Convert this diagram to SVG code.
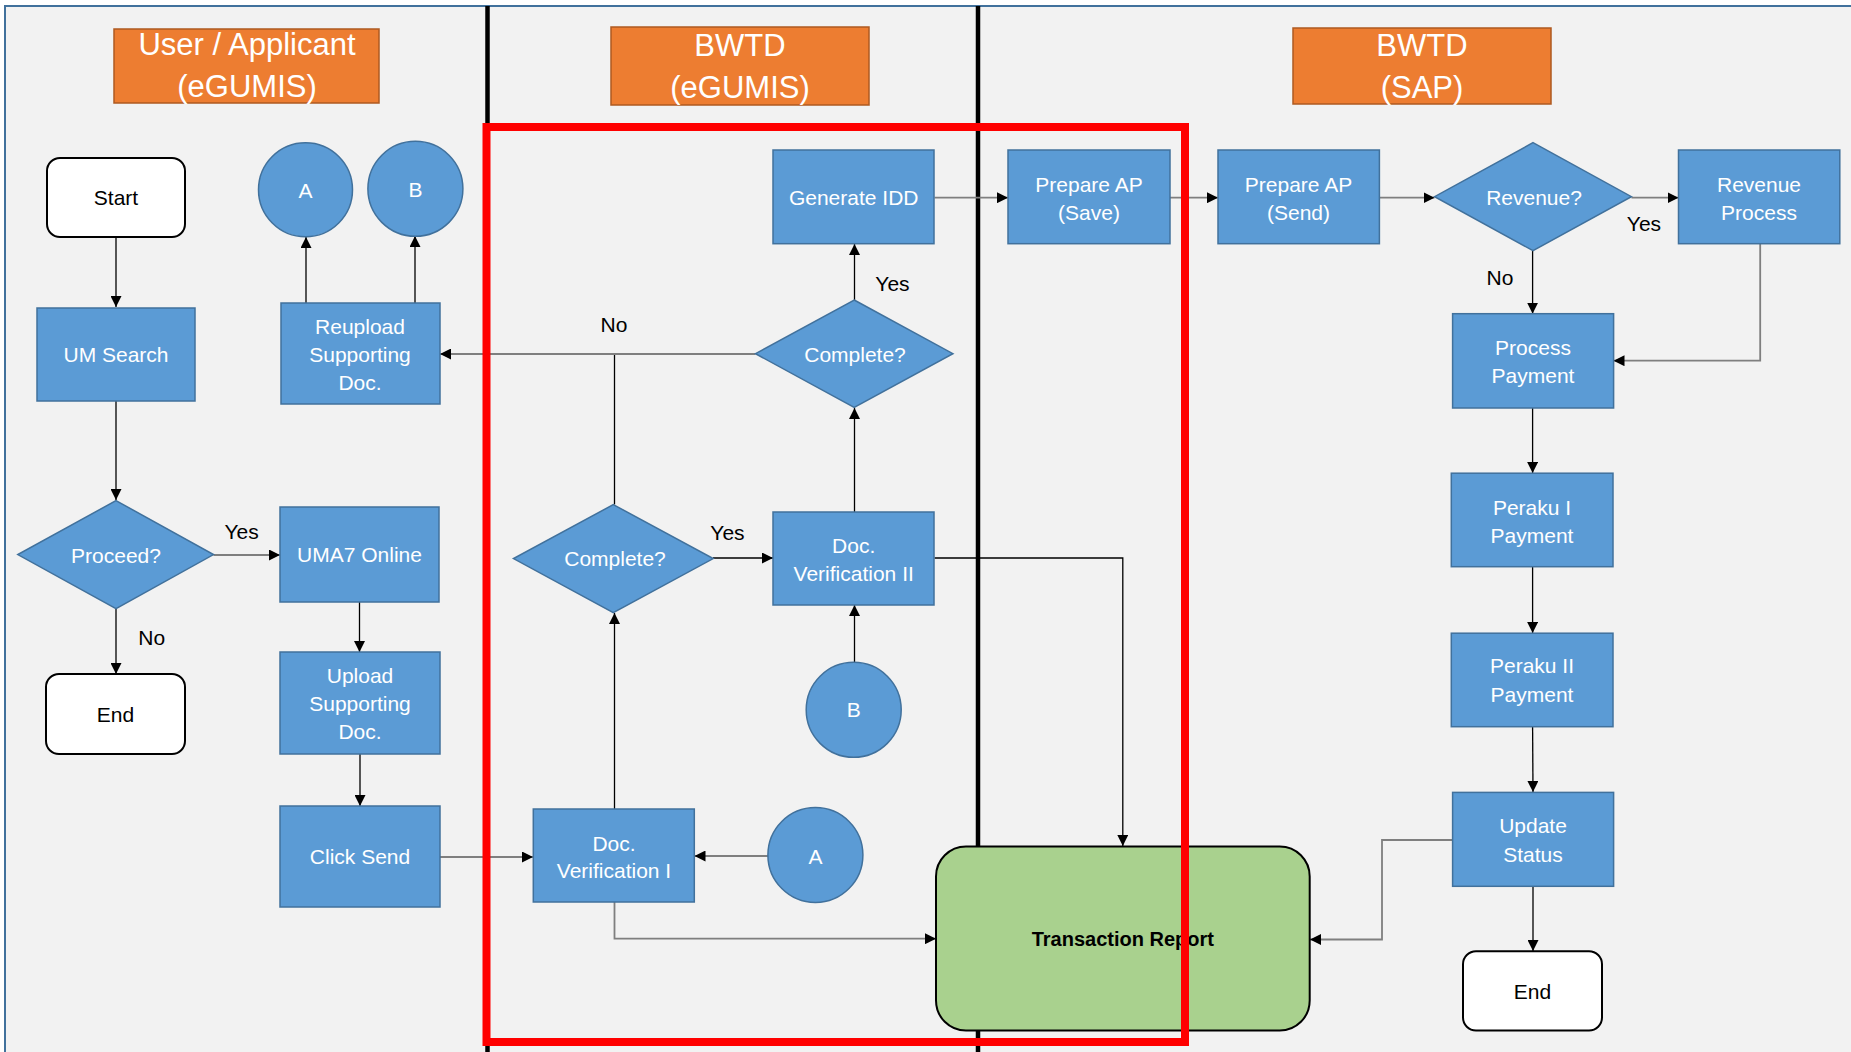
<svg xmlns="http://www.w3.org/2000/svg" width="1851" height="1052" viewBox="0 0 1851 1052">
<style>
.proc{fill:#5B9BD5;stroke:#41719C;stroke-width:1.5}
.term{fill:#FFFFFF;stroke:#000;stroke-width:2}
.hdr{fill:#ED7D31;stroke:#AE5A21;stroke-width:1.5}
.wt{font-family:"Liberation Sans",Arial,sans-serif;font-size:21px;fill:#FFFFFF;text-anchor:middle}
.bt{font-family:"Liberation Sans",Arial,sans-serif;font-size:21px;fill:#000;text-anchor:middle}
.ht{font-family:"Liberation Sans",Arial,sans-serif;font-size:31px;fill:#FFFFFF;text-anchor:middle}
.c1{fill:none;stroke:#000;stroke-width:1.3}
.c2{fill:none;stroke:#7F7F7F;stroke-width:1.8}
</style>
<defs>
<marker id="ah" viewBox="0 0 10 10" refX="10" refY="5" markerWidth="11" markerHeight="11" markerUnits="userSpaceOnUse" orient="auto">
<path d="M0,0 L10,5 L0,10 z" fill="#000"/>
</marker>
</defs>
<rect x="0" y="0" width="1851" height="1052" fill="#FFFFFF"/>
<rect x="5" y="6" width="1860" height="1060" fill="#F2F2F2" stroke="#41719C" stroke-width="2"/>
<g id="lanes">
<line x1="487.5" y1="6" x2="487.5" y2="1052" stroke="#000" stroke-width="4.5"/>
<line x1="978" y1="6" x2="978" y2="1052" stroke="#000" stroke-width="4.5"/>
</g>
<g id="hdr-user"><rect class="hdr" x="114" y="29" width="265" height="74"/><text class="ht" x="247" y="55">User / Applicant</text><text class="ht" x="247" y="97">(eGUMIS)</text></g>
<g id="hdr-bwtd-egumis"><rect class="hdr" x="611" y="27" width="258" height="78"/><text class="ht" x="740" y="56">BWTD</text><text class="ht" x="740" y="98">(eGUMIS)</text></g>
<g id="hdr-bwtd-sap"><rect class="hdr" x="1293" y="28" width="258" height="76"/><text class="ht" x="1422" y="56">BWTD</text><text class="ht" x="1422" y="98">(SAP)</text></g>

<g id="connectors">
<line class="c1" x1="116" y1="237" x2="116" y2="307" marker-end="url(#ah)"/>
<line class="c1" x1="116" y1="401" x2="116" y2="500" marker-end="url(#ah)"/>
<line class="c2" x1="213.5" y1="555" x2="280" y2="555" marker-end="url(#ah)"/>
<line class="c1" x1="116" y1="609" x2="116" y2="674" marker-end="url(#ah)"/>
<line class="c1" x1="359.5" y1="602" x2="359.5" y2="652" marker-end="url(#ah)"/>
<line class="c1" x1="360" y1="754" x2="360" y2="806" marker-end="url(#ah)"/>
<line class="c2" x1="440" y1="857" x2="533" y2="857" marker-end="url(#ah)"/>
<line class="c1" x1="306" y1="303" x2="306" y2="237" marker-end="url(#ah)"/>
<line class="c1" x1="415" y1="303" x2="415" y2="236" marker-end="url(#ah)"/>
<line class="c2" x1="768" y1="856" x2="694.5" y2="856" marker-end="url(#ah)"/>
<line class="c1" x1="614.5" y1="809" x2="614.5" y2="613" marker-end="url(#ah)"/>
<line class="c1" x1="614.5" y1="504.5" x2="614.5" y2="355"/>
<line class="c2" x1="755.5" y1="354" x2="440" y2="354" marker-end="url(#ah)"/>
<line class="c1" x1="713" y1="558" x2="773" y2="558" marker-end="url(#ah)"/>
<line class="c1" x1="854.5" y1="662" x2="854.5" y2="605" marker-end="url(#ah)"/>
<line class="c1" x1="854.5" y1="512" x2="854.5" y2="408" marker-end="url(#ah)"/>
<line class="c1" x1="854.5" y1="300" x2="854.5" y2="244" marker-end="url(#ah)"/>
<line class="c2" x1="934.5" y1="197.7" x2="1008" y2="197.7" marker-end="url(#ah)"/>
<polyline class="c1" points="934.5,558 1122.8,558 1122.8,846" marker-end="url(#ah)"/>
<polyline class="c2" points="614.5,902 614.5,938.7 936,938.7" marker-end="url(#ah)"/>
<line class="c2" x1="1170" y1="197.7" x2="1218" y2="197.7" marker-end="url(#ah)"/>
<line class="c2" x1="1379.5" y1="197.7" x2="1434.5" y2="197.7" marker-end="url(#ah)"/>
<line class="c2" x1="1631.5" y1="197.7" x2="1678.5" y2="197.7" marker-end="url(#ah)"/>
<line class="c1" x1="1532.6" y1="250.7" x2="1532.6" y2="313.7" marker-end="url(#ah)"/>
<polyline class="c2" points="1760.2,243.7 1760.2,360.7 1613.5,360.7" marker-end="url(#ah)"/>
<line class="c1" x1="1532.6" y1="408" x2="1532.6" y2="473" marker-end="url(#ah)"/>
<line class="c1" x1="1532.6" y1="566.7" x2="1532.6" y2="633" marker-end="url(#ah)"/>
<line class="c1" x1="1532.6" y1="726.7" x2="1533" y2="792" marker-end="url(#ah)"/>
<line class="c1" x1="1533" y1="886.3" x2="1533" y2="951" marker-end="url(#ah)"/>
<polyline class="c2" points="1452.6,840 1382,840 1382,939.5 1310,939.5" marker-end="url(#ah)"/>
</g>

<g id="start"><rect class="term" x="47" y="158" width="138" height="79" rx="13"/><text class="bt" x="116" y="205">Start</text></g>
<g id="um-search"><rect class="proc" x="37" y="308" width="158" height="93"/><text class="wt" x="116" y="361.5">UM Search</text></g>
<g id="conn-a-top"><ellipse class="proc" cx="305.5" cy="189.7" rx="47" ry="47"/><text class="wt" x="305.5" y="198">A</text></g>
<g id="conn-b-top"><ellipse class="proc" cx="415.4" cy="188.8" rx="47.5" ry="47.5"/><text class="wt" x="415.4" y="197">B</text></g>
<g id="reupload"><rect class="proc" x="281" y="303" width="159" height="101"/><text class="wt" x="360" y="333.5">Reupload</text><text class="wt" x="360" y="361.5">Supporting</text><text class="wt" x="360" y="389.5">Doc.</text></g>
<g id="proceed"><polygon class="proc" points="116,500.6 213.5,554.6 116,608.6 17.8,554.6"/><text class="wt" x="116" y="562.5">Proceed?</text></g>
<g id="uma7"><rect class="proc" x="280" y="507" width="159" height="95"/><text class="wt" x="359.5" y="561.5">UMA7 Online</text></g>
<g id="end-left"><rect class="term" x="46" y="674" width="139" height="80" rx="13"/><text class="bt" x="115.5" y="721.5">End</text></g>
<g id="upload"><rect class="proc" x="280" y="652" width="160" height="102"/><text class="wt" x="360" y="682.6">Upload</text><text class="wt" x="360" y="711">Supporting</text><text class="wt" x="360" y="739">Doc.</text></g>
<g id="click-send"><rect class="proc" x="280" y="806" width="160" height="101"/><text class="wt" x="360" y="864">Click Send</text></g>
<g id="doc-ver-1"><rect class="proc" x="533.3" y="809" width="161" height="93"/><text class="wt" x="614" y="850.7">Doc.</text><text class="wt" x="614" y="877.7">Verification I</text></g>
<g id="conn-a-low"><ellipse class="proc" cx="815.4" cy="855" rx="47.5" ry="47.5"/><text class="wt" x="815.4" y="863.5">A</text></g>
<g id="complete-1"><polygon class="proc" points="613.3,504.6 713.2,558.6 613.3,612.7 513.5,558.6"/><text class="wt" x="615" y="565.5">Complete?</text></g>
<g id="doc-ver-2"><rect class="proc" x="773" y="512" width="161" height="93"/><text class="wt" x="853.7" y="552.5">Doc.</text><text class="wt" x="853.7" y="580.5">Verification II</text></g>
<g id="conn-b-low"><ellipse class="proc" cx="853.7" cy="709.8" rx="47.5" ry="47.5"/><text class="wt" x="853.7" y="717.3">B</text></g>
<g id="complete-2"><polygon class="proc" points="854.2,300 952.9,353.7 854.2,407.3 755.5,353.7"/><text class="wt" x="855" y="361.5">Complete?</text></g>
<g id="generate-idd"><rect class="proc" x="773" y="150" width="161" height="93.7"/><text class="wt" x="853.7" y="205">Generate IDD</text></g>
<g id="prep-save"><rect class="proc" x="1008" y="150" width="162" height="93.7"/><text class="wt" x="1089" y="191.8">Prepare AP</text><text class="wt" x="1089" y="219.8">(Save)</text></g>
<g id="prep-send"><rect class="proc" x="1218" y="150" width="161.4" height="93.7"/><text class="wt" x="1298.5" y="191.8">Prepare AP</text><text class="wt" x="1298.5" y="219.8">(Send)</text></g>
<g id="revenue"><polygon class="proc" points="1533,142.7 1631.4,196.7 1533,250.7 1434.6,196.7"/><text class="wt" x="1534" y="205">Revenue?</text></g>
<g id="revenue-process"><rect class="proc" x="1678.5" y="150" width="161.3" height="93.7"/><text class="wt" x="1759" y="191.8">Revenue</text><text class="wt" x="1759" y="219.8">Process</text></g>
<g id="process-payment"><rect class="proc" x="1452.6" y="313.7" width="161" height="94.3"/><text class="wt" x="1533" y="355">Process</text><text class="wt" x="1533" y="383">Payment</text></g>
<g id="peraku-1"><rect class="proc" x="1451.3" y="473.2" width="161.7" height="93.5"/><text class="wt" x="1532" y="515">Peraku I</text><text class="wt" x="1532" y="543">Payment</text></g>
<g id="peraku-2"><rect class="proc" x="1451.3" y="633.2" width="161.7" height="93.5"/><text class="wt" x="1532" y="673.4">Peraku II</text><text class="wt" x="1532" y="701.5">Payment</text></g>
<g id="update-status"><rect class="proc" x="1452.6" y="792.4" width="161" height="93.9"/><text class="wt" x="1533" y="833.4">Update</text><text class="wt" x="1533" y="861.5">Status</text></g>
<g id="end-right"><rect class="term" x="1463" y="951.2" width="139" height="79.4" rx="13"/><text class="bt" x="1532.5" y="999">End</text></g>
<g id="transaction-report"><rect x="936" y="846.4" width="373.7" height="184.2" rx="30" fill="#A9D18E" stroke="#000" stroke-width="2"/><text x="1122.8" y="946" font-family="Liberation Sans, Arial, sans-serif" font-size="20" font-weight="bold" fill="#000" text-anchor="middle">Transaction Report</text></g>

<g id="labels">
<text class="bt" x="241.6" y="538.5">Yes</text>
<text class="bt" x="151.8" y="645">No</text>
<text class="bt" x="727.5" y="539.5">Yes</text>
<text class="bt" x="614" y="331.5">No</text>
<text class="bt" x="892.5" y="290.5">Yes</text>
<text class="bt" x="1644" y="230.5">Yes</text>
<text class="bt" x="1500" y="284.5">No</text>
</g>
<rect id="highlight" x="486.5" y="127" width="698.5" height="915" fill="none" stroke="#FF0000" stroke-width="8"/>
</svg>
